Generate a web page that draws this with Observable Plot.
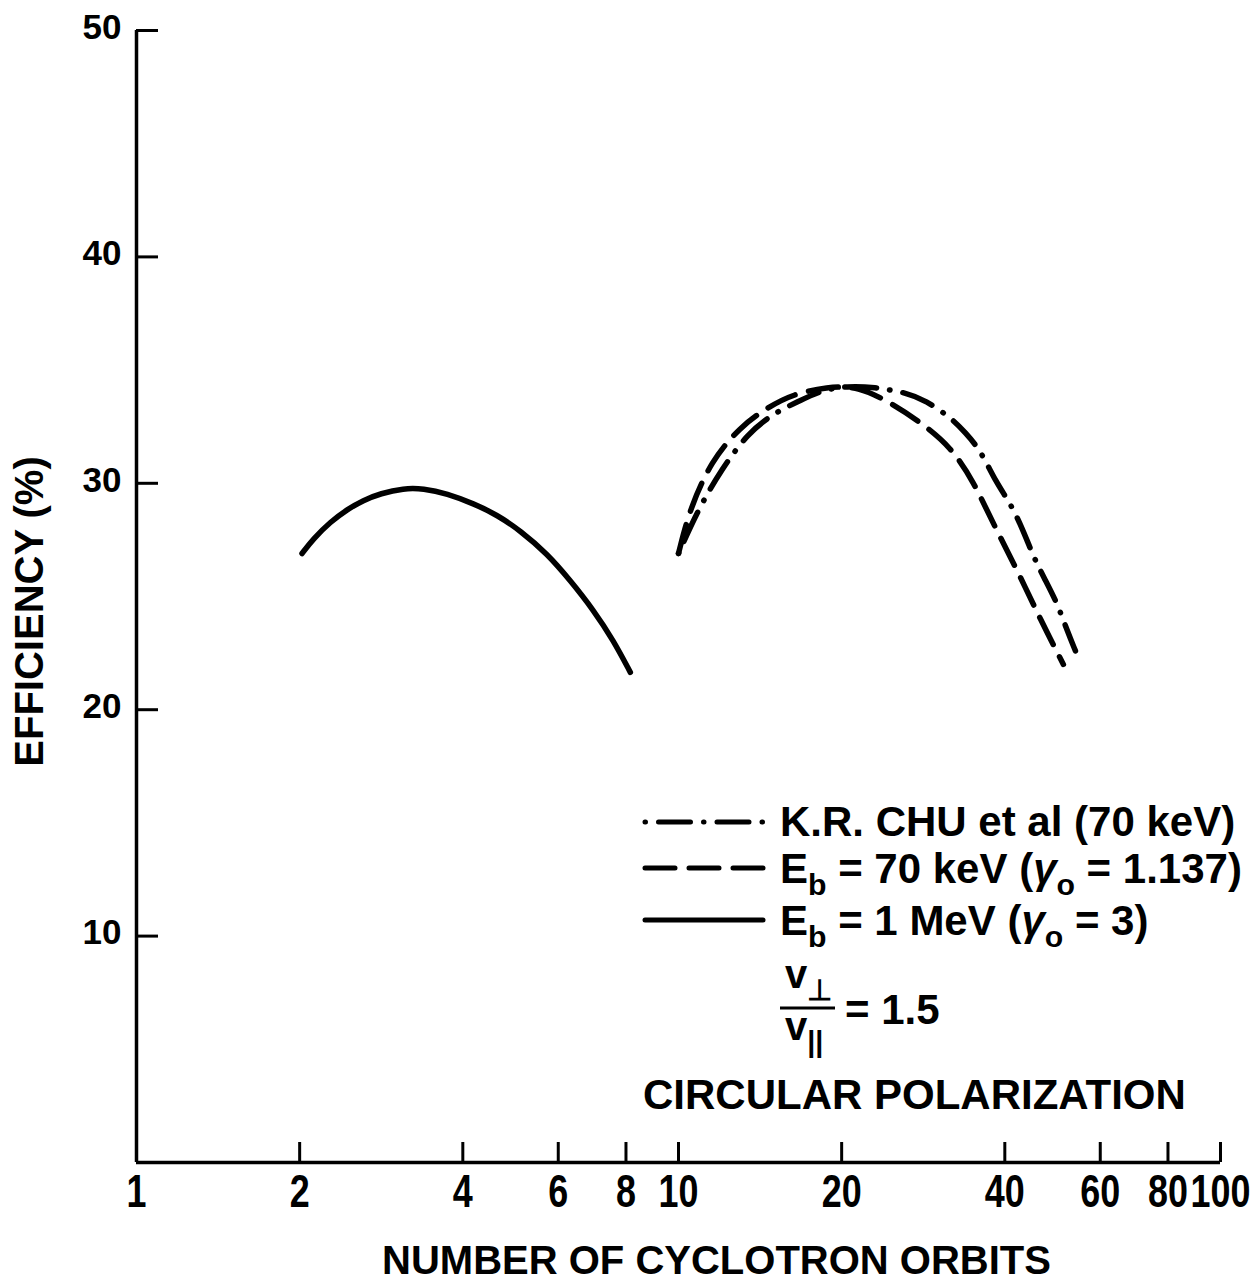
<!DOCTYPE html>
<html>
<head>
<meta charset="utf-8">
<script src="https://cdn.jsdelivr.net/npm/d3@7"></script>
<script src="https://cdn.jsdelivr.net/npm/@observablehq/plot@0.6"></script>
<style>
  body { margin: 0; background: #fff; }
  #chart { width: 1260px; height: 1282px; }
</style>
</head>
<body>
<div id="chart"></div>
<script>
// ---- Data ----
const solidX   = [2.02, 2.12, 2.28, 2.45, 2.62, 2.82, 3.11, 3.38, 3.74, 4.19, 4.63, 5.11, 5.72, 6.32, 6.97, 7.59, 8.15];
const solidY   = [26.9, 27.55, 28.3, 28.85, 29.25, 29.55, 29.78, 29.77, 29.55, 29.1, 28.6, 27.9, 26.9, 25.7, 24.4, 23.05, 21.65];

const dashedX  = [10.0, 10.5, 11.5, 13.0, 14.6, 16.3, 18.8, 21.4, 24.9, 28.3, 31.8, 35.0, 38.1, 42.2, 46.6, 51.3];
const dashedY  = [26.9, 28.9, 31.0, 32.5, 33.35, 33.95, 34.25, 34.3, 33.5, 32.6, 31.6, 30.1, 28.2, 26.15, 23.95, 22.0];

const chuX     = [10.0, 10.9, 12.0, 13.4, 15.0, 16.6, 18.3, 20.5, 22.9, 26.4, 28.6, 31.8, 33.8, 36.1, 38.5, 41.0, 43.1, 45.2, 47.2, 50.0, 52.1, 54.0];
const chuY     = [26.9, 28.9, 30.6, 32.2, 33.1, 33.6, 34.1, 34.3, 34.25, 34.0, 33.65, 32.9, 32.25, 31.45, 30.05, 29.1, 28.0, 26.75, 25.85, 24.7, 23.5, 22.6];

const xTicks      = [2, 4, 6, 8, 10, 20, 40, 60, 80, 100];
const xTickLabels = [1, 2, 4, 6, 8, 10, 20, 40, 60, 80, 100];
const yTicks      = [10, 20, 30, 40, 50];

const xTitle = "NUMBER OF CYCLOTRON ORBITS";
const yTitle = "EFFICIENCY (%)";

const toRows = (xs, ys) => xs.map((x, i) => ({x, y: ys[i]}));

const W = 1260, H = 1282;
const mL = 136, mR = 40, mT = 30, mB = 120;
const plotW = W - mL - mR, plotH = H - mT - mB;

const FONT = "'Liberation Sans', Arial, Helvetica, sans-serif";
const DASH = "30,14";
const DASHDOT = "0.5,13,32,13";

const chart = Plot.plot({
  width: W, height: H,
  marginLeft: mL, marginRight: mR, marginTop: mT, marginBottom: mB,
  style: {fontFamily: FONT, fontWeight: "bold", background: "white", color: "black", overflow: "visible"},
  x: {type: "log", domain: [1, 100], axis: null},
  y: {domain: [0, 50], axis: null},
  marks: [
    // axis lines
    Plot.ruleX([1], {y1: 0, y2: 50, strokeWidth: 3.5}),
    Plot.ruleY([0], {x1: 1, x2: 100, strokeWidth: 3.5}),
    // inward ticks
    Plot.tickY(yTicks, {y: d => d, insetRight: plotW - 22, strokeWidth: 3}),
    Plot.tickX(xTicks, {x: d => d, insetTop: plotH - 20, strokeWidth: 3}),
    // tick labels
    Plot.text(yTicks, {y: d => d, text: d => String(d), frameAnchor: "left", textAnchor: "end", dx: -15, dy: -3, fontSize: 35, fontWeight: "bold"}),
    Plot.text(xTickLabels, {x: d => d, text: d => String(d), frameAnchor: "bottom", textAnchor: "middle", lineAnchor: "middle", dy: 30, fontSize: 46, fontWeight: "bold", className: "xlab"}),
    // axis titles
    Plot.text([yTitle], {text: d => d, frameAnchor: "left", textAnchor: "middle", lineAnchor: "middle", rotate: -90, dx: -106, dy: 15, fontSize: 40, fontWeight: "bold"}),
    Plot.text([xTitle], {text: d => d, frameAnchor: "bottom", textAnchor: "middle", lineAnchor: "middle", dx: 38, dy: 99, fontSize: 40, fontWeight: "bold"}),
    // curves
    Plot.line(toRows(solidX, solidY), {x: "x", y: "y", curve: "basis", strokeWidth: 5.5, strokeLinecap: "round"}),
    Plot.line(toRows(dashedX, dashedY), {x: "x", y: "y", curve: "basis", strokeWidth: 5.5, strokeLinecap: "round", strokeDasharray: DASH}),
    Plot.line(toRows(chuX, chuY), {x: "x", y: "y", curve: "basis", strokeWidth: 5.5, strokeLinecap: "round", strokeDasharray: DASHDOT})
  ]
});

// condense the x tick labels (narrow typeface in original)
d3.select(chart).selectAll(".xlab text").each(function() {
  const t = d3.select(this);
  const tr = t.attr("transform");
  if (tr) t.attr("transform", tr + " scale(0.78,1)");
  else {
    const x = +t.attr("x") || 0, y = +t.attr("y") || 0;
    t.attr("x", null).attr("y", null).attr("transform", `translate(${x},${y}) scale(0.78,1)`);
  }
});

// ---- Legend inside the plot ----
const svg = d3.select(chart);
const lg = svg.append("g").attr("font-family", FONT).attr("font-weight", "bold")
  .attr("fill", "black").attr("text-anchor", "start");
const lineX1 = 645, lineX2 = 763, textX = 780;
const rows = [
  {y: 822, dash: DASHDOT},
  {y: 868, dash: DASH},
  {y: 920, dash: null}
];
rows.forEach(r => {
  lg.append("line").attr("x1", lineX1).attr("x2", lineX2)
    .attr("y1", r.y).attr("y2", r.y)
    .attr("stroke", "black").attr("stroke-width", 5).attr("stroke-linecap", "round")
    .attr("stroke-dasharray", r.dash);
});

const fs = 42;
function addText(x, y, parts, size = fs) {
  const t = lg.append("text").attr("x", x).attr("y", y).attr("font-size", size);
  parts.forEach(p => {
    if (typeof p === "string") t.append("tspan").text(p);
    else {
      const s = t.append("tspan").text(p.t);
      if (p.sub) s.attr("font-size", size * 0.72).attr("dy", 12);
      if (p.up) s.attr("dy", -12);
      if (p.it) s.attr("font-style", "italic");
    }
  });
  return t;
}
addText(textX, 836, ["K.R. CHU et al (70 keV)"]);
addText(textX, 883, ["E", {t: "b", sub: true}, {t: " = 70 keV (", up: true}, {t: "γ", it: true}, {t: "o", sub: true}, {t: " = 1.137)", up: true}]);
addText(textX, 935, ["E", {t: "b", sub: true}, {t: " = 1 MeV (", up: true}, {t: "γ", it: true}, {t: "o", sub: true}, {t: " = 3)", up: true}]);

// fraction v_perp / v_par = 1.5
addText(785, 988, ["v", {t: "⊥", sub: true}], 40);
lg.append("line").attr("x1", 780).attr("x2", 835).attr("y1", 1008).attr("y2", 1008).attr("stroke", "black").attr("stroke-width", 3);
addText(785, 1040, ["v", {t: "||", sub: true}], 40);
addText(845, 1024, ["= 1.5"]);
addText(643, 1109, ["CIRCULAR POLARIZATION"]);

document.getElementById("chart").appendChild(chart);
</script>
</body>
</html>
